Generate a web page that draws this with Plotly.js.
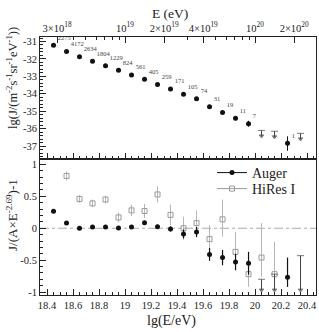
<!DOCTYPE html>
<html>
<head>
<meta charset="utf-8">
<script src="https://cdn.plot.ly/plotly-3.0.1.min.js"></script>
<style>
  html, body { margin: 0; padding: 0; background: #fff; }
  #chart { width: 319px; height: 332px; }
</style>
</head>
<body>
<div id="chart"></div>
<script>
// ---- Auger flux: bin centres in lg(E/eV), lg of the flux, number of events per bin
const lgE = [18.45, 18.55, 18.65, 18.75, 18.85, 18.95, 19.05, 19.15, 19.25, 19.35,
             19.45, 19.55, 19.65, 19.75, 19.85, 19.95, 20.25];
const lgFlux = [-31.22, -31.58, -31.87, -32.14, -32.39, -32.65, -32.92, -33.17, -33.46, -33.73,
                -34.03, -34.28, -34.74, -35.08, -35.41, -35.72, -36.84];
const lgFluxErrUp = [0.01, 0.01, 0.01, 0.01, 0.01, 0.01, 0.02, 0.02, 0.03, 0.03,
                     0.04, 0.05, 0.07, 0.10, 0.12, 0.17, 0.40];
const lgFluxErrDown = [0.01, 0.01, 0.01, 0.01, 0.01, 0.01, 0.02, 0.02, 0.03, 0.03,
                       0.04, 0.05, 0.07, 0.10, 0.12, 0.17, 0.43];
const eventCounts = ['2275', '4172', '2634', '1804', '1229', '824', '561', '405', '259', '171',
                     '105', '74', '31', '19', '11', '7', '1'];

// bins with no events: upper limits
const lgELimit = [20.05, 20.15, 20.35];
const lgFluxLimit = [-36.10, -36.15, -36.27];

// ---- residuals with respect to A x E^-2.69
const augerRes = [0.266, 0.083, 0.000, 0.020, 0.020, 0.005, 0.020, 0.085, 0.025, -0.010,
                  -0.090, -0.060, -0.410, -0.460, -0.530, -0.550, -0.770];
const augerResErrUp = [0.02, 0.015, 0.015, 0.015, 0.015, 0.02, 0.02, 0.03, 0.03, 0.04,
                       0.07, 0.08, 0.10, 0.12, 0.13, 0.18, 0.31];
const augerResErrDown = [0.02, 0.015, 0.015, 0.015, 0.015, 0.02, 0.02, 0.03, 0.03, 0.04,
                         0.07, 0.08, 0.10, 0.12, 0.13, 0.18, 0.15];
const augerResLimit = [-0.80, -0.72, -0.43];

const hiresLgE = [18.55, 18.65, 18.75, 18.85, 18.95, 19.05, 19.15, 19.25, 19.35, 19.45,
                  19.55, 19.65, 19.75, 19.85, 19.95, 20.05, 20.15];
const hiresRes = [0.82, 0.46, 0.39, 0.45, 0.17, 0.28, 0.27, 0.53, 0.21, 0.00,
                  0.08, -0.17, 0.14, -0.37, -0.72, -0.46, -0.72];
const hiresErrUp = [0.07, 0.06, 0.06, 0.06, 0.08, 0.09, 0.11, 0.13, 0.16, 0.18,
                    0.20, 0.22, 0.31, 0.31, 0.33, 0.54, 0.51];
const hiresErrDown = [0.07, 0.06, 0.06, 0.06, 0.08, 0.09, 0.11, 0.13, 0.16, 0.18,
                      0.20, 0.22, 0.27, 0.28, 0.20, 0.30, 0.25];

// ---- tick labels
const lgTicks = [18.4, 18.6, 18.8, 19.0, 19.2, 19.4, 19.6, 19.8, 20.0, 20.2, 20.4];
const lgTickText = ['18.4', '18.6', '18.8', '19', '19.2', '19.4', '19.6', '19.8', '20', '20.2', '20.4'];
const energyTicks = [3e18, 1e19, 2e19, 4e19, 1e20, 2e20];
const energyTickText = ['3×10<sup>18</sup>', '10<sup>19</sup>', '2×10<sup>19</sup>',
                        '4×10<sup>19</sup>', '10<sup>20</sup>', '2×10<sup>20</sup>'];
const fluxTicks = [-37, -36, -35, -34, -33, -32, -31];
const fluxTickText = ['-37', '-36', '-35', '-34', '-33', '-32', '-31'];
const resTicks = [-1, -0.5, 0, 0.5, 1];
const resTickText = ['-1', '-0.5', '0', '0.5', '1'];

// ---- styling
const FONT = '"Liberation Serif", "DejaVu Serif", serif';
const INK = '#111';
const GREY = '#9a9a9a';
const LIMIT_INK = '#444';
const upperArrowLen = 0.32;     // length of the upper-limit arrows in the flux panel (lg units)
const resArrowFloor = -0.97;    // residual arrows run down to here

const X_RANGE = [18.346, 20.469];

// log minor ticks on the energy axis
const energyMinor = [];
for (let d = 18; d <= 20; d++) {
  for (let k = 1; k <= 9; k++) {
    const v = Math.log10(k * Math.pow(10, d));
    if (v > X_RANGE[0] && v < X_RANGE[1]) energyMinor.push(v);
  }
}

// "bar + line + arrowhead" path for each upper limit
function limitTrace(xs, tops, bottomOf, xaxis, yaxis, color) {
  const x = [], y = [], sym = [], size = [];
  xs.forEach((xv, i) => {
    x.push(xv, xv, null);
    y.push(tops[i], bottomOf(tops[i]), null);
    sym.push('line-ew', 'triangle-down', 'circle');
    size.push(5, 4, 0);
  });
  return {
    x, y, xaxis, yaxis, type: 'scatter', mode: 'lines+markers',
    line: { color, width: 1 },
    marker: { symbol: sym, size, color, line: { color, width: 1 } },
    hoverinfo: 'skip', showlegend: false, cliponaxis: false
  };
}

function legendEntry(name, legend, marker, color) {
  return {
    x: [null], y: [null], xaxis: 'x', yaxis: 'y2', type: 'scatter', mode: 'lines+markers',
    name, legend, line: { color, width: 1 }, marker
  };
}

const traces = [
  // flux panel
  {
    x: lgE, y: lgFlux, xaxis: 'x2', yaxis: 'y', type: 'scatter', mode: 'markers+text',
    text: eventCounts, textposition: 'top right',
    textfont: { family: FONT, size: 6.5, color: '#444' },
    marker: { symbol: 'circle', size: 5, color: INK },
    error_y: { type: 'data', symmetric: false, array: lgFluxErrUp, arrayminus: lgFluxErrDown,
               color: INK, thickness: 1, width: 0 },
    showlegend: false, hoverinfo: 'skip', cliponaxis: false
  },
  limitTrace(lgELimit, lgFluxLimit, v => v - upperArrowLen, 'x2', 'y', LIMIT_INK),
  // keeps the energy axis on top of the flux panel in use
  { x: [null], y: [null], xaxis: 'x3', yaxis: 'y', type: 'scatter', mode: 'markers',
    showlegend: false, hoverinfo: 'skip' },

  // residual panel
  {
    x: hiresLgE, y: hiresRes, xaxis: 'x', yaxis: 'y2', type: 'scatter', mode: 'markers',
    marker: { symbol: 'square-open', size: 5, color: GREY, line: { color: GREY, width: 1 } },
    error_y: { type: 'data', symmetric: false, array: hiresErrUp, arrayminus: hiresErrDown,
               color: '#b5b5b5', thickness: 1, width: 0 },
    showlegend: false, hoverinfo: 'skip'
  },
  {
    x: lgE, y: augerRes, xaxis: 'x', yaxis: 'y2', type: 'scatter', mode: 'markers',
    marker: { symbol: 'circle', size: 5, color: INK },
    error_y: { type: 'data', symmetric: false, array: augerResErrUp, arrayminus: augerResErrDown,
               color: INK, thickness: 1.2, width: 0 },
    showlegend: false, hoverinfo: 'skip'
  },
  limitTrace(lgELimit, augerResLimit, () => resArrowFloor, 'x', 'y2', LIMIT_INK),

  // legend entries
  legendEntry('Auger', 'legend', { symbol: 'circle', size: 5, color: INK }, INK),
  legendEntry('HiRes I', 'legend2',
              { symbol: 'square-open', size: 5, color: GREY, line: { color: GREY, width: 1 } }, GREY)
];

const W = 319, H = 332;
const px = v => v / W;
const py = v => 1 - v / H;

const tickFont = { family: FONT, size: 10.5, color: '#222' };
const axisCommon = {
  showline: true, linecolor: '#222', linewidth: 1,
  ticks: 'inside', tickcolor: '#222', tickwidth: 1,
  showgrid: false, zeroline: false, tickfont: tickFont, fixedrange: true
};
const minorX = { tickmode: 'linear', tick0: 18.4, dtick: 0.05, ticks: 'inside', ticklen: 3, tickcolor: '#222' };

function title(text, x, y, size, angle) {
  return { text, xref: 'paper', yref: 'paper', x: px(x), y: py(y),
           xanchor: 'center', yanchor: 'middle', textangle: angle || 0,
           showarrow: false, font: { family: FONT, size, color: '#222' } };
}
function legendBox(yMid) {
  return {
    x: px(212), y: py(yMid), xanchor: 'left', yanchor: 'middle',
    bgcolor: 'rgba(0,0,0,0)', borderwidth: 0,
    font: { family: FONT, size: 14, color: '#222' },
    itemclick: false, itemdoubleclick: false
  };
}

const layout = {
  width: W, height: H,
  margin: { l: 0, r: 0, t: 0, b: 0 },
  paper_bgcolor: '#fff', plot_bgcolor: '#fff',
  font: { family: FONT, color: '#222' },
  showlegend: true,
  legend: legendBox(173),
  legend2: legendBox(189),
  // residual panel x axis (labelled)
  xaxis: Object.assign({}, axisCommon, {
    domain: [px(40), px(316)], anchor: 'y2', range: X_RANGE,
    tickmode: 'array', tickvals: lgTicks, ticktext: lgTickText, ticklen: 6,
    minor: minorX, mirror: true
  }),
  // flux panel bottom axis (unlabelled)
  xaxis2: Object.assign({}, axisCommon, {
    domain: [px(40), px(316)], anchor: 'y', range: X_RANGE,
    tickmode: 'array', tickvals: lgTicks, ticklen: 6, showticklabels: false,
    minor: minorX
  }),
  // energy axis on top of the flux panel
  xaxis3: Object.assign({}, axisCommon, {
    overlaying: 'x2', anchor: 'y', side: 'top', range: X_RANGE,
    tickmode: 'array', tickvals: energyTicks.map(Math.log10), ticktext: energyTickText, ticklen: 6,
    minor: { tickmode: 'array', tickvals: energyMinor, ticks: 'inside', ticklen: 3, tickcolor: '#222' }
  }),
  yaxis: Object.assign({}, axisCommon, {
    domain: [1 - 159 / H, 1 - 37 / H], anchor: 'x2', range: [-37.741, -30.742],
    tickmode: 'array', tickvals: fluxTicks, ticktext: fluxTickText, ticklen: 6,
    minor: { tickmode: 'linear', tick0: -31, dtick: 0.2, ticks: 'inside', ticklen: 3, tickcolor: '#222' },
    mirror: true
  }),
  yaxis2: Object.assign({}, axisCommon, {
    domain: [1 - 295 / H, 1 - 159 / H], anchor: 'x', range: [-1.047, 1.086],
    tickmode: 'array', tickvals: resTicks, ticktext: resTickText, ticklen: 6,
    minor: { tickmode: 'linear', tick0: 0, dtick: 0.1, ticks: 'inside', ticklen: 3, tickcolor: '#222' },
    mirror: true
  }),
  shapes: [
    // reference level: J = A x E^-2.69
    { type: 'line', xref: 'x domain', yref: 'y2', x0: 0, x1: 1, y0: 0, y1: 0,
      line: { color: '#aaa', width: 1, dash: 'dashdot' }, layer: 'below' }
  ],
  annotations: [
    title('E (eV)', 170, 13, 13.5),
    title('lg(E/eV)', 171, 321, 14),
    title('lg(J/(m<sup>-2</sup>s<sup>-1</sup>sr<sup>-1</sup>eV<sup>-1</sup>))', 12, 78, 12.5, -90),
    title('J/(A×E<sup>-2.69</sup>)-1', 12, 215, 13, -90)
  ]
};

Plotly.newPlot('chart', traces, layout, { displayModeBar: false, staticPlot: true });
</script>
</body>
</html>
